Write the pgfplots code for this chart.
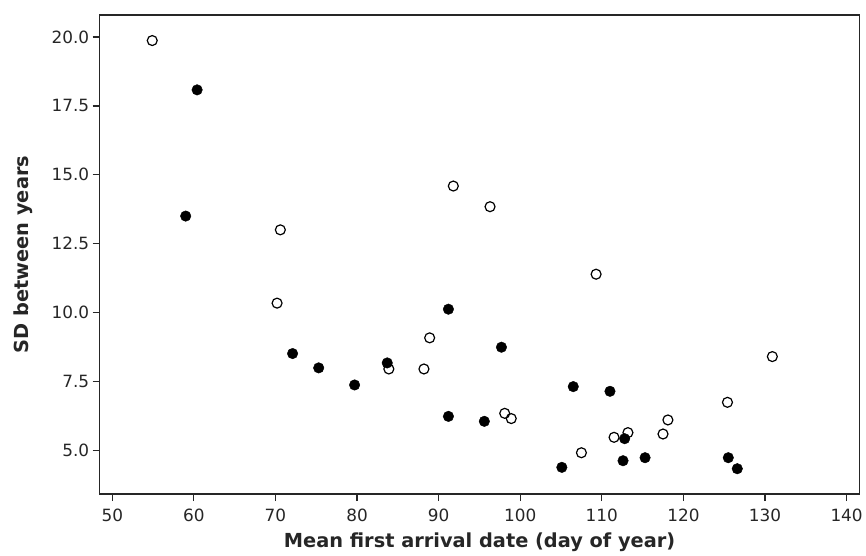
\documentclass[border=0pt]{standalone}
\usepackage{fontspec}
\setmainfont{DejaVu Sans}
\usepackage{pgfplots}
\pgfplotsset{compat=1.18}

% filled circles
\pgfplotstableread{
x y
60.4 18.08
59.0 13.50
72.1 8.51
75.3 7.99
79.7 7.37
83.7 8.17
91.2 10.12
91.2 6.23
95.6 6.05
97.7 8.74
105.1 4.38
106.5 7.31
111.0 7.14
112.8 5.42
112.6 4.62
115.3 4.73
125.5 4.73
126.6 4.33
}\filledpts

% open circles
\pgfplotstableread{
x y
54.9 19.87
70.6 13.00
91.8 14.59
96.3 13.84
109.3 11.39
70.2 10.34
83.9 7.95
88.2 7.95
88.9 9.08
98.1 6.34
98.9 6.15
107.5 4.91
111.5 5.47
113.2 5.64
117.5 5.59
118.1 6.10
125.4 6.74
130.9 8.40
}\openpts

\begin{document}
\begin{tikzpicture}
  \begin{axis}[
    name=ax,
    scale only axis,
    width=763bp,
    height=481bp,
    xmin=48.45, xmax=141.6,
    ymin=3.41, ymax=20.8,
    xtick={50,60,...,140},
    ytick={5,7.5,...,20},
    xtick pos=bottom,
    ytick pos=left,
    tick align=outside,
    major tick length=7bp,
    axis line style={line width=1.3bp, black!85},
    tick style={line width=1.3bp, black!85},
    /pgf/number format/assume math mode=true,
    yticklabel style={/pgf/number format/fixed, /pgf/number format/fixed zerofill,
      /pgf/number format/precision=1},
    xticklabel style={yshift=-4bp},
    tick label style={font=\fontsize{17}{20}\selectfont, text=black!85},
    label style={font=\bfseries\fontsize{19.5}{23}\selectfont, text=black!85},
    xlabel={Mean first arrival date (day of year)},
    xlabel style={yshift=-5bp},
    ylabel={SD between years},
    ylabel style={xshift=0bp, yshift=12bp},
    clip=false
  ]
    \addplot[only marks, mark=*, mark size=5.3bp, black] table {\filledpts};
    \addplot[only marks, mark=o, mark size=5bp, black, line width=1.2bp] table {\openpts};
  \end{axis}
  \path ([shift={(-100bp,-57bp)}]ax.south west) rectangle ([shift={(3bp,15bp)}]ax.north east);
\end{tikzpicture}
\end{document}
